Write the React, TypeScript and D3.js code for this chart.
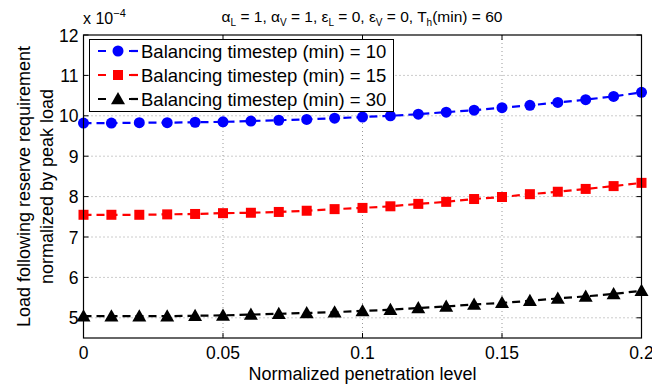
import React from "react";
import * as d3 from "d3";

const xValues = [0, 0.01, 0.02, 0.03, 0.04, 0.05, 0.06, 0.07, 0.08, 0.09, 0.1, 0.11, 0.12, 0.13, 0.14, 0.15, 0.16, 0.17, 0.18, 0.19, 0.2];
const series10 = [9.82, 9.82, 9.83, 9.83, 9.84, 9.85, 9.87, 9.89, 9.91, 9.94, 9.97, 10.0, 10.04, 10.09, 10.14, 10.2, 10.26, 10.33, 10.4, 10.48, 10.58];
const series15 = [7.55, 7.55, 7.55, 7.56, 7.57, 7.59, 7.6, 7.62, 7.65, 7.69, 7.72, 7.76, 7.82, 7.87, 7.94, 7.99, 8.06, 8.12, 8.19, 8.26, 8.34];
const series30 = [5.04, 5.04, 5.04, 5.04, 5.05, 5.06, 5.08, 5.1, 5.12, 5.14, 5.17, 5.2, 5.24, 5.28, 5.33, 5.37, 5.42, 5.48, 5.53, 5.59, 5.67];
const seriesLabels = ["Balancing timestep (min) = 10", "Balancing timestep (min) = 15", "Balancing timestep (min) = 30"];
const seriesColors = ["#0000ff", "#ff0000", "#000000"];
const seriesMarkers = ["circle", "square", "triangle"];
const xTicks = [0, 0.05, 0.1, 0.15, 0.2];
const xTickLabels = ["0", "0.05", "0.1", "0.15", "0.2"];
const yTicks = [5, 6, 7, 8, 9, 10, 11, 12];

const W = 652, H = 387;
const L = 83.5, R = 641.5, T = 35, B = 338;
const FONT = "Liberation Sans, Arial, Helvetica, sans-serif";
const FS = 18;

function Marker({ type, x, y, color }: { type: string; x: number; y: number; color: string }) {
  if (type === "circle") return <circle cx={x} cy={y} r={5.5} fill={color} />;
  if (type === "square") return <rect x={x - 5} y={y - 5} width={10} height={10} fill={color} />;
  const s = 7;
  return <path d={`M${x},${y - s} L${x + s},${y + s * 0.75} L${x - s},${y + s * 0.75} Z`} fill={color} />;
}

export default function App() {
  const x = d3.scaleLinear().domain([0, 0.2]).range([L, R]);
  const y = d3.scaleLinear().domain([4.5, 12]).range([B, T]);
  const all = [series10, series15, series30];
  const line = d3.line<number>().x((_, i) => x(xValues[i])).y((d) => y(d));

  return (
    <svg width={W} height={H} style={{ position: "absolute", left: 0, top: 0, background: "#fff" }} fontFamily={FONT}>
      <rect x={0} y={0} width={W} height={H} fill="#fff" />
      {xTicks.slice(1, -1).map((t) => (
        <line key={"gx" + t} x1={x(t)} x2={x(t)} y1={T} y2={B} stroke="#999" strokeWidth={1} strokeDasharray="1 3" />
      ))}
      {yTicks.filter((t) => t !== 12).map((t) => (
        <line key={"gy" + t} x1={L} x2={R} y1={y(t)} y2={y(t)} stroke="#999" strokeWidth={1} strokeDasharray="1 3" />
      ))}
      {xTicks.map((t) => (
        <g key={"tx" + t}>
          <line x1={x(t)} x2={x(t)} y1={B} y2={B - 5} stroke="#000" />
          <line x1={x(t)} x2={x(t)} y1={T} y2={T + 5} stroke="#000" />
        </g>
      ))}
      {yTicks.map((t) => (
        <g key={"ty" + t}>
          <line x1={L} x2={L + 5} y1={y(t)} y2={y(t)} stroke="#000" />
          <line x1={R} x2={R - 5} y1={y(t)} y2={y(t)} stroke="#000" />
        </g>
      ))}
      {all.map((s, k) => (
        <g key={"s" + k}>
          <path d={line(s) || ""} fill="none" stroke={seriesColors[k]} strokeWidth={2.2} strokeDasharray="8 5" />
          {s.map((v, i) => (
            <Marker key={i} type={seriesMarkers[k]} x={x(xValues[i])} y={y(v)} color={seriesColors[k]} />
          ))}
        </g>
      ))}
      <rect x={L} y={T} width={R - L} height={B - T} fill="none" stroke="#000" strokeWidth={1.2} />
      {xTicks.map((t, i) => (
        <text key={"lx" + t} x={x(t)} y={B + 21} textAnchor="middle" fontSize={17.5}>{xTickLabels[i]}</text>
      ))}
      {yTicks.map((t) => (
        <text key={"ly" + t} x={L - 5} y={y(t) + 6.5} textAnchor="end" fontSize={17.5}>{t}</text>
      ))}
      <text x={83} y={24} fontSize={16}>x 10<tspan dy={-7} fontSize={11}>−4</tspan></text>
      <text x={362} y={22} textAnchor="middle" fontSize={15.5}>
        α<tspan dy={4} fontSize={10}>L</tspan><tspan dy={-4}> = 1, α</tspan><tspan dy={4} fontSize={10}>V</tspan><tspan dy={-4}> = 1, ε</tspan><tspan dy={4} fontSize={10}>L</tspan><tspan dy={-4}> = 0, ε</tspan><tspan dy={4} fontSize={10}>V</tspan><tspan dy={-4}> = 0, T</tspan><tspan dy={4} fontSize={10}>h</tspan><tspan dy={-4}>(min) = 60</tspan>
      </text>
      <text x={(L + R) / 2} y={380} textAnchor="middle" fontSize={FS}>Normalized penetration level</text>
      <text transform={`translate(30,${(T + B) / 2}) rotate(-90)`} textAnchor="middle" fontSize={FS}>Load following reserve requirement</text>
      <text transform={`translate(53,${(T + B) / 2}) rotate(-90)`} textAnchor="middle" fontSize={FS}>normalized by peak load</text>
      <rect x={89.5} y={39.5} width={304} height={72} fill="#fff" stroke="#000" strokeWidth={1} />
      {seriesLabels.map((lab, k) => {
        const ly = 51 + k * 24;
        return (
          <g key={"lg" + k}>
            <line x1={98} x2={138} y1={ly} y2={ly} stroke={seriesColors[k]} strokeWidth={2.2} strokeDasharray="8 23" />
            <line x1={131} x2={138} y1={ly} y2={ly} stroke={seriesColors[k]} strokeWidth={2.2} />
            <Marker type={seriesMarkers[k]} x={118} y={ly} color={seriesColors[k]} />
            <text x={141} y={ly + 6.5} fontSize={FS + 0.5}>{lab}</text>
          </g>
        );
      })}
    </svg>
  );
}
